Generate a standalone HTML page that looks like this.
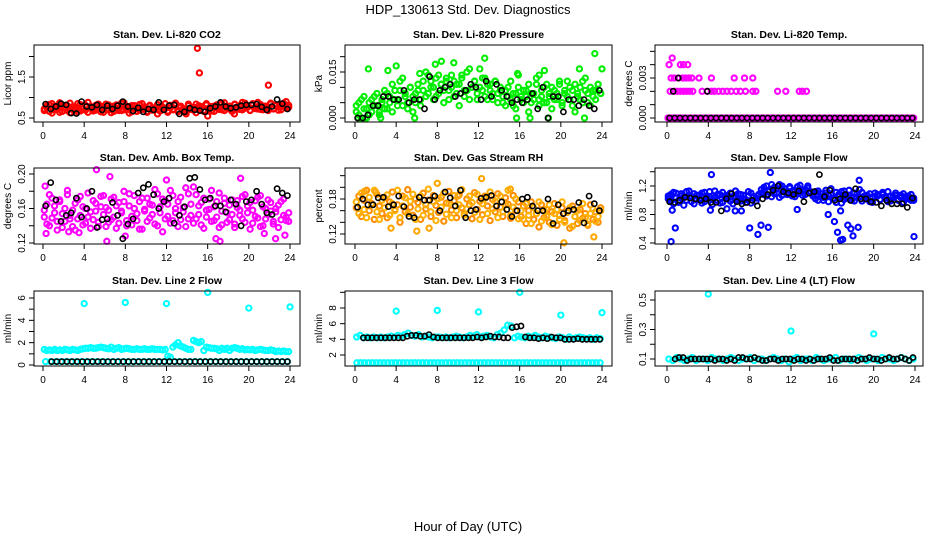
<!DOCTYPE html>
<html><head><meta charset="utf-8"><style>
html,body{margin:0;padding:0;background:#fff;}
svg{display:block;font-family:"Liberation Sans",sans-serif;}
</style></head><body>
<svg id="chart" width="936" height="540" viewBox="0 0 936 540" xmlns="http://www.w3.org/2000/svg">
<text x="468" y="14" text-anchor="middle" font-size="13">HDP_130613  Std. Dev. Diagnostics</text>
<text x="468" y="531" text-anchor="middle" font-size="13">Hour of Day (UTC)</text>
</svg>
<script>
// ---------- data ----------
const xTicks=[0,4,8,12,16,20,24];
// P1 CO2
const co2A=[0.72,0.80,0.66,0.85,0.70,0.78,0.64,0.82,0.74,0.68,0.86,0.71,0.77,0.65,0.83,0.73,0.69,0.88,0.75,0.67,0.81,0.72,0.79,0.64,0.84,0.70,0.76,0.66,0.82,0.73,0.68,0.87,0.71,0.78,0.65,0.80,0.74,0.69,0.85,0.72,0.66,0.79,0.75,0.70,0.83,0.67,0.77,0.73,0.64,0.81,0.71,0.86,0.68,0.76,0.72,0.65,0.80,0.74,0.69,0.84,0.70,0.78,0.66,0.82,0.73,0.67,0.79,0.75,0.71,0.85,0.68,0.77,0.72,0.66,0.83,0.74,0.80,0.70,0.86,0.76,0.69,0.82,0.73,0.88,0.71,0.79,0.75,0.68,0.84,0.72,0.80,0.77,0.70,0.86,0.74,0.81];
const co2B=[0.68,0.75,0.83,0.62,0.79,0.71,0.87,0.66,0.74,0.80,0.63,0.77,0.70,0.85,0.67,0.73,0.81,0.64,0.78,0.72,0.69,0.84,0.65,0.76,0.71,0.82,0.63,0.79,0.74,0.68,0.86,0.70,0.75,0.62,0.80,0.73,0.66,0.83,0.71,0.77,0.64,0.81,0.69,0.74,0.60,0.78,0.72,0.85,0.67,0.75,0.70,0.82,0.65,0.79,0.73,0.68,0.84,0.71,0.76,0.63,0.80,0.74,0.69,0.85,0.72,0.78,0.66,0.82,0.75,0.70,0.87,0.73,0.79,0.67,0.84,0.76,0.71,0.88,0.74,0.80,0.68,0.85,0.77,0.72,0.83,0.70,0.79,0.75,0.86,0.73,0.81,0.69,0.84,0.78,0.90,0.76];
const co2OutH=[15.0,15.2,21.9,16.0,13.9,18.6];
const co2OutV=[2.2,1.6,1.3,0.55,0.6,0.6];
const co2Black=[0.84,0.72,0.78,0.85,0.82,0.62,0.61,0.90,0.78,0.76,0.82,0.70,0.80,0.72,0.80,0.90,0.78,0.67,0.75,0.65,0.72,0.70,0.88,0.70,0.80,0.82,0.60,0.65,0.74,0.70,0.68,0.65,0.74,0.78,0.88,0.78,0.74,0.76,0.80,0.82,0.82,0.84,0.77,0.70,0.78,0.95,0.85,0.72];
// P2 Pressure
const presA=[0.004,0.001,0.006,0.003,0.000,0.005,0.002,0.007,0.004,0.001,0.006,0.003,0.008,0.005,0.002,0.009,0.006,0.012,0.004,0.008,0.003,0.010,0.007,0.005,0.009,0.004,0.012,0.007,0.014,0.010,0.006,0.013,0.008,0.011,0.005,0.012,0.009,0.014,0.007,0.011,0.004,0.013,0.009,0.015,0.006,0.010,0.012,0.008,0.016,0.009,0.013,0.006,0.011,0.008,0.012,0.005,0.009,0.007,0.004,0.010,0.006,0.008,0.003,0.014,0.007,0.005,0.009,0.002,0.008,0.006,0.011,0.004,0.007,0.010,0.005,0.008,0.003,0.009,0.006,0.011,0.004,0.008,0.012,0.006,0.009,0.002,0.007,0.010,0.005,0.013,0.008,0.004,0.009,0.006,0.011,0.008];
const presB=[0.002,0.005,0.000,0.007,0.003,0.001,0.006,0.004,0.008,0.002,0.005,0.009,0.003,0.007,0.011,0.006,0.004,0.009,0.013,0.007,0.005,0.010,0.002,0.008,0.011,0.006,0.009,0.015,0.008,0.012,0.010,0.007,0.014,0.011,0.009,0.013,0.006,0.010,0.012,0.008,0.011,0.014,0.007,0.009,0.016,0.010,0.012,0.006,0.010,0.013,0.007,0.011,0.009,0.006,0.012,0.008,0.010,0.005,0.009,0.007,0.012,0.004,0.008,0.010,0.006,0.009,0.007,0.011,0.005,0.008,0.013,0.006,0.009,0.005,0.011,0.007,0.010,0.006,0.008,0.012,0.005,0.009,0.007,0.010,0.004,0.011,0.008,0.006,0.012,0.009,0.005,0.010,0.007,0.009,0.011,0.008];
const presOutH=[23.3,12.6,8.4,7.8,4.0,24.0,9.6,3.2,21.8,18.4,17.9,15.8,1.3,6.3,0.3,1.0,2.5,15.7,17.0,18.8,22.3,5.8];
const presOutV=[0.021,0.0195,0.0185,0.0175,0.017,0.016,0.018,0.0155,0.016,0.0155,0.014,0.0145,0.016,0.0145,0,0,0,0,0,0,0,0];
const presBlack=[0.000,0.000,0.001,0.004,0.004,0.007,0.007,0.006,0.006,0.009,0.005,0.006,0.006,0.003,0.0135,0.006,0.009,0.010,0.011,0.007,0.008,0.009,0.011,0.010,0.006,0.012,0.007,0.011,0.009,0.007,0.005,0.006,0.005,0.006,0.008,0.003,0.010,0.000,0.007,0.007,0.002,0.006,0.006,0.004,0.006,0.004,0.003,0.009];
// P3 Li-820 Temp
const tempZero=[0,0,0,0,0,0,0,0,0,0,0,0,0,0,0,0,0,0,0,0,0,0,0,0,0,0,0,0,0,0,0,0,0,0,0,0,0,0,0,0,0,0,0,0,0,0,0,0,0,0,0,0,0,0,0,0,0,0,0,0,0,0,0,0,0,0,0,0,0,0,0,0,0,0,0,0,0,0,0,0,0,0,0,0,0,0,0,0,0,0,0,0,0,0,0,0];
const tempPtH=[0.1,0.3,0.5,0.7,0.9,1.1,1.3,0.3,0.7,1.0,1.3,1.6,1.9,2.2,2.5,3.4,3.9,4.3,4.6,5.0,5.4,5.8,6.2,6.7,7.1,7.6,8.3,8.6,10.7,11.5,12.8,13.1,13.5,0.4,0.7,1.1,1.5,1.8,2.1,2.4,3.1,4.3,6.5,7.5,8.3,0.2,1.3,1.6,2.0,0.5];
const tempPtV=[0,0,0,0,0,0,0,0.002,0.002,0.002,0.002,0.002,0.002,0.002,0.002,0.002,0.002,0.002,0.002,0.002,0.002,0.002,0.002,0.002,0.002,0.002,0.002,0.002,0.002,0.002,0.002,0.002,0.002,0.003,0.003,0.003,0.003,0.003,0.003,0.003,0.003,0.003,0.003,0.003,0.003,0.004,0.004,0.004,0.004,0.0045];
const tempBlackZero=[0,0,0,0,0,0,0,0,0,0,0,0,0,0,0,0,0,0,0,0,0,0,0,0,0,0,0,0,0,0,0,0,0,0,0,0,0,0,0,0,0,0,0,0,0,0,0,0];
const tempBlackH=[0.6,3.9,1.1];
const tempBlackV=[0.002,0.002,0.003];
// P4 Amb Box Temp
const ambA=[0.150,0.165,0.140,0.172,0.155,0.145,0.168,0.138,0.160,0.176,0.148,0.158,0.135,0.170,0.152,0.162,0.143,0.178,0.156,0.147,0.166,0.139,0.174,0.153,0.161,0.144,0.171,0.150,0.137,0.167,0.157,0.180,0.146,0.163,0.141,0.175,0.154,0.168,0.136,0.159,0.172,0.149,0.164,0.142,0.177,0.155,0.133,0.169,0.151,0.181,0.146,0.160,0.139,0.173,0.156,0.184,0.148,0.165,0.143,0.176,0.153,0.167,0.137,0.158,0.171,0.145,0.162,0.150,0.178,0.141,0.166,0.155,0.147,0.170,0.138,0.161,0.152,0.174,0.144,0.163,0.136,0.158,0.169,0.149,0.175,0.140,0.160,0.153,0.167,0.142,0.156,0.164,0.147,0.171,0.150,0.145];
const ambB=[0.158,0.142,0.176,0.149,0.163,0.135,0.170,0.154,0.145,0.181,0.152,0.139,0.166,0.148,0.174,0.141,0.160,0.150,0.137,0.169,0.157,0.144,0.162,0.175,0.139,0.158,0.147,0.173,0.163,0.143,0.155,0.168,0.140,0.177,0.151,0.160,0.146,0.136,0.172,0.157,0.145,0.165,0.153,0.182,0.140,0.162,0.171,0.148,0.165,0.143,0.175,0.155,0.168,0.147,0.161,0.139,0.177,0.152,0.185,0.148,0.163,0.141,0.172,0.150,0.159,0.181,0.146,0.168,0.138,0.157,0.172,0.144,0.164,0.153,0.142,0.169,0.158,0.148,0.176,0.155,0.167,0.143,0.151,0.173,0.139,0.162,0.148,0.170,0.157,0.145,0.160,0.138,0.168,0.152,0.146,0.155];
const ambOutH=[5.2,6.5,19.2,12.0,0.2,6.2,17.2,22.6,8.0,16.8,0.3,21.5,23.5,3.5,2.5];
const ambOutV=[0.205,0.197,0.195,0.193,0.186,0.122,0.122,0.125,0.128,0.125,0.131,0.131,0.129,0.132,0.133];
const ambBlack=[0.163,0.19,0.17,0.145,0.152,0.155,0.172,0.15,0.16,0.18,0.138,0.147,0.148,0.167,0.152,0.125,0.142,0.148,0.178,0.184,0.188,0.176,0.16,0.168,0.172,0.143,0.152,0.162,0.195,0.196,0.182,0.17,0.172,0.163,0.163,0.156,0.17,0.165,0.14,0.168,0.17,0.18,0.165,0.155,0.153,0.183,0.178,0.175];
// P5 Gas Stream RH
const rhA=[0.165,0.185,0.150,0.178,0.195,0.160,0.172,0.145,0.188,0.168,0.155,0.182,0.148,0.175,0.192,0.162,0.170,0.140,0.185,0.158,0.196,0.166,0.152,0.180,0.174,0.145,0.190,0.163,0.178,0.150,0.186,0.169,0.157,0.183,0.142,0.173,0.193,0.161,0.177,0.148,0.187,0.165,0.155,0.180,0.170,0.146,0.191,0.162,0.176,0.153,0.185,0.168,0.143,0.179,0.158,0.189,0.166,0.150,0.182,0.171,0.147,0.186,0.160,0.175,0.150,0.168,0.138,0.160,0.175,0.145,0.155,0.132,0.170,0.148,0.162,0.140,0.158,0.172,0.135,0.152,0.165,0.143,0.157,0.130,0.168,0.150,0.138,0.162,0.147,0.155,0.135,0.170,0.145,0.158,0.140,0.165];
const rhB=[0.175,0.155,0.190,0.162,0.148,0.183,0.170,0.195,0.158,0.145,0.178,0.165,0.187,0.152,0.172,0.160,0.195,0.148,0.168,0.182,0.155,0.176,0.188,0.145,0.163,0.185,0.152,0.170,0.197,0.158,0.175,0.143,0.181,0.166,0.190,0.154,0.172,0.148,0.186,0.160,0.170,0.196,0.152,0.163,0.185,0.174,0.157,0.188,0.145,0.172,0.181,0.155,0.192,0.163,0.176,0.148,0.185,0.158,0.170,0.195,0.152,0.166,0.180,0.146,0.160,0.145,0.172,0.152,0.138,0.165,0.155,0.175,0.142,0.160,0.150,0.170,0.136,0.155,0.162,0.145,0.175,0.140,0.158,0.165,0.133,0.150,0.160,0.143,0.172,0.148,0.137,0.155,0.163,0.142,0.150,0.160];
const rhOutH=[20.3,23.2,12.3,8.0,6.0,15.1,0.9,2.0,3.5,10.0,7.2];
const rhOutV=[0.105,0.115,0.215,0.207,0.125,0.197,0.193,0.192,0.130,0.185,0.130];
const rhBlack=[0.166,0.180,0.170,0.170,0.182,0.183,0.167,0.170,0.185,0.167,0.150,0.148,0.183,0.178,0.178,0.185,0.160,0.192,0.182,0.168,0.195,0.148,0.160,0.162,0.181,0.183,0.186,0.168,0.175,0.162,0.150,0.160,0.180,0.183,0.168,0.160,0.160,0.180,0.138,0.170,0.155,0.160,0.162,0.174,0.139,0.185,0.172,0.160];
// P6 Sample Flow
const flowA=[1.02,1.08,0.95,1.10,1.00,1.06,0.93,1.12,1.04,0.98,1.09,1.01,1.07,0.96,1.11,1.03,1.05,0.94,1.13,1.00,1.08,0.97,1.06,1.02,1.10,0.95,1.04,1.09,0.99,1.07,1.01,1.12,0.96,1.05,1.03,1.08,1.15,1.08,1.20,1.12,1.05,1.18,1.10,1.22,1.07,1.16,1.11,1.19,1.06,1.14,1.09,1.21,1.13,1.08,1.17,1.10,1.06,1.12,1.00,1.09,1.04,1.14,0.98,1.08,1.02,1.11,1.05,0.96,1.13,1.03,1.07,1.00,1.10,1.04,1.15,0.99,1.06,1.02,1.09,0.97,1.05,1.08,1.01,1.11,1.03,0.98,1.06,1.04,1.10,1.00,1.07,0.97,1.05,1.02,1.08,1.00];
const flowB=[1.06,0.99,1.11,1.03,0.97,1.09,1.04,1.00,1.13,1.05,0.95,1.07,1.02,1.10,0.98,1.06,1.12,1.01,1.04,1.08,0.96,1.11,1.03,1.07,0.99,1.05,1.13,1.00,1.08,1.02,0.97,1.06,1.10,1.04,0.99,1.07,1.10,1.18,1.06,1.14,1.22,1.09,1.16,1.04,1.20,1.12,1.08,1.17,1.13,1.05,1.19,1.11,1.07,1.15,1.20,1.12,1.09,1.02,1.13,1.05,1.00,1.10,1.07,1.16,1.03,0.97,1.08,1.12,1.01,1.06,1.14,1.04,0.99,1.09,1.05,1.11,1.02,1.07,0.98,1.04,1.10,1.06,1.01,1.08,1.03,1.12,0.99,1.05,1.07,1.01,1.04,1.09,1.02,1.06,1.00,1.03];
const flowOutH=[0.4,0.8,8.0,8.8,9.1,9.8,16.5,16.8,17.0,17.5,18.0,18.5,15.6,16.2,16.8,17.8,7.2,23.9,4.3,10.0,18.6,0.5,6.6,12.6,4.2,5.8];
const flowOutV=[0.42,0.61,0.61,0.52,0.65,0.62,0.55,0.44,0.45,0.65,0.50,0.62,0.80,0.70,0.85,0.60,0.85,0.49,1.36,1.39,1.28,0.86,0.85,0.87,0.86,0.88];
const flowBlack=[0.98,0.97,1.00,1.04,1.03,1.02,1.00,1.02,0.97,0.97,0.85,1.02,1.09,0.98,0.95,0.97,1.00,0.92,1.02,1.08,1.14,1.20,1.12,1.10,1.08,1.13,0.98,1.10,1.12,1.36,1.05,1.14,1.00,1.02,1.08,1.00,1.16,1.02,1.02,0.98,0.97,0.92,1.00,0.95,0.95,0.95,0.90,1.03];
// P7 Line 2 Flow
const l2Cyan=[1.4,1.3,1.35,1.3,1.4,1.3,1.35,1.3,1.4,1.35,1.3,1.4,1.35,1.3,1.4,1.45,1.5,1.5,1.55,1.5,1.5,1.55,1.6,1.55,1.5,1.45,1.6,1.4,1.5,1.55,1.4,1.45,1.5,1.45,1.4,1.4,1.45,1.4,1.4,1.45,1.4,1.4,1.45,1.4,1.4,1.4,1.35,1.4,0.8,0.7,1.6,1.8,2.0,1.7,1.6,1.5,1.4,1.4,2.2,2.1,2.0,2.1,1.3,1.6,1.55,1.5,1.5,1.45,1.3,1.5,1.4,1.5,1.3,1.5,1.55,1.5,1.4,1.45,1.35,1.4,1.35,1.4,1.3,1.35,1.4,1.35,1.3,1.3,1.35,1.3,1.2,1.25,1.2,1.25,1.2,1.2];
const l2CyanLow=[0.3,0.3,0.3,0.3,0.3,0.3,0.3,0.3,0.3,0.3,0.3,0.3,0.3,0.3,0.3,0.3,0.3,0.3,0.3,0.3,0.3,0.3,0.3,0.3,0.3,0.3,0.3,0.3,0.3,0.3,0.3,0.3,0.3,0.3,0.3,0.3,0.3,0.3,0.3,0.3,0.3,0.3,0.3,0.3,0.3,0.3,0.3,0.3];
const l2OutH=[4,8,12,16,20,24];
const l2OutV=[5.5,5.6,5.5,6.5,5.1,5.2];
const l2Black=[0.3,0.3,0.3,0.3,0.3,0.3,0.3,0.3,0.3,0.3,0.3,0.3,0.3,0.3,0.3,0.3,0.3,0.3,0.3,0.3,0.3,0.3,0.3,0.3,0.3,0.3,0.3,0.3,0.3,0.3,0.3,0.3,0.3,0.3,0.3,0.3,0.3,0.3,0.3,0.3,0.3,0.3,0.3,0.3,0.3,0.3,0.3];
// P8 Line 3 Flow
const l3CyanLow=[1,1,1,1,1,1,1,1,1,1,1,1,1,1,1,1,1,1,1,1,1,1,1,1,1,1,1,1,1,1,1,1,1,1,1,1,1,1,1,1,1,1,1,1,1,1,1,1,1,1,1,1,1,1,1,1,1,1,1,1,1,1,1,1];
const l3CyanMid=[4.3,4.5,4.2,4.3,4.2,4.3,4.2,4.3,4.2,4.3,4.4,4.3,4.5,4.4,4.6,4.8,4.5,4.4,4.6,4.3,4.4,4.3,4.2,4.3,4.3,4.2,4.3,4.2,4.3,4.4,4.3,4.2,4.3,4.5,4.4,4.6,4.3,4.4,4.5,4.3,4.2,4.6,4.8,5.2,5.8,5.7,4.2,4.4,4.3,4.2,4.4,4.3,4.5,4.3,4.2,4.4,4.3,4.2,4.1,4.3,4.2,4.0,4.3,4.1,4.2,4.3,4.2,4.1,4.2,4.0,4.2,4.1];
const l3OutH=[4,8,12,16,20,24];
const l3OutV=[7.6,7.7,7.5,10.0,7.1,7.4];
const l3Black=[4.2,4.2,4.2,4.2,4.2,4.2,4.2,4.2,4.2,4.2,4.4,4.5,4.5,4.4,4.4,4.6,4.3,4.2,4.2,4.2,4.2,4.2,4.2,4.2,4.2,4.2,4.3,4.2,4.3,4.4,4.3,4.3,4.2,4.2,5.5,5.6,5.7,4.3,4.2,4.2,4.1,4.2,4.1,4.3,4.2,4.2,4.0,4.0,4.0,4.1,4.0,4.0,4.0,4.0,4.0];
// P9 Line 4 Flow
const l4Cyan=[0.10,0.09,0.11,0.10,0.09,0.10,0.11,0.09,0.10,0.10,0.09,0.11,0.10,0.10,0.09,0.10,0.11,0.10,0.09,0.10,0.10,0.11,0.09,0.10,0.10,0.09,0.10,0.11,0.10,0.09,0.10,0.08,0.10,0.11,0.09,0.10,0.10,0.09,0.11,0.10,0.09,0.10,0.10,0.11,0.09,0.10,0.10,0.09,0.10,0.11,0.10,0.09,0.10,0.10,0.09,0.11,0.10,0.10,0.09,0.10,0.11,0.10,0.09,0.10];
const l4OutH=[4,12,20];
const l4OutV=[0.54,0.29,0.27];
const l4Black=[0.10,0.11,0.11,0.09,0.10,0.10,0.10,0.10,0.10,0.10,0.09,0.10,0.10,0.09,0.10,0.09,0.11,0.11,0.10,0.10,0.11,0.10,0.09,0.09,0.10,0.10,0.09,0.10,0.10,0.10,0.09,0.10,0.10,0.09,0.10,0.09,0.10,0.10,0.10,0.11,0.09,0.09,0.10,0.10,0.10,0.10,0.09,0.10,0.10,0.11,0.10,0.10,0.09,0.10,0.11,0.10,0.10,0.11,0.10,0.09,0.11];

// ---------- layout ----------
const NS='http://www.w3.org/2000/svg';
const svg=document.getElementById('chart');
const cols=[{bl:34,br:300,x0:43,x24:290},{bl:345,br:612,x0:355,x24:602},{bl:655,br:923,x0:667,x24:915}];
const rows=[{bt:45,bb:122},{bt:168,bb:244},{bt:291,bb:366}];
function mk(tag,attrs,parent){const e=document.createElementNS(NS,tag);for(const k in attrs)e.setAttribute(k,attrs[k]);(parent||svg).appendChild(e);return e;}

const panels=[
 {name:'co2',title:'Stan. Dev. Li-820 CO2',ylab:'Licor ppm',c:0,r:0,cal:[0.5,118,1.5,77],ticks:[0.5,1.0,1.5,2.0],labs:['0.5','','1.5',''],
  series:[{col:'#ff0000',v:co2A},{col:'#ff0000',v:co2B},{col:'#ff0000',h:co2OutH,v:co2OutV},{col:'#000',v:co2Black}]},
 {name:'pressure',title:'Stan. Dev. Li-820 Pressure',ylab:'kPa',c:1,r:0,cal:[0,118,0.015,72],ticks:[0,0.005,0.01,0.015,0.02],labs:['0.000','','','0.015',''],
  series:[{col:'#00ee00',v:presA},{col:'#00ee00',v:presB},{col:'#00ee00',h:presOutH,v:presOutV},{col:'#000',v:presBlack}]},
 {name:'li820-temp',title:'Stan. Dev. Li-820 Temp.',ylab:'degrees C',c:2,r:0,cal:[0,118,0.003,78],ticks:[0,0.001,0.002,0.003,0.004,0.005],labs:['0.000','','','0.003','',''],
  series:[{col:'#ff00ff',v:tempZero},{col:'#ff00ff',h:tempPtH,v:tempPtV},{col:'#000',v:tempBlackZero},{col:'#000',h:tempBlackH,v:tempBlackV}]},
 {name:'amb-box-temp',title:'Stan. Dev. Amb. Box Temp.',ylab:'degrees C',c:0,r:1,cal:[0.12,243,0.20,174],ticks:[0.12,0.14,0.16,0.18,0.20],labs:['0.12','','0.16','','0.20'],
  series:[{col:'#ff00ff',v:ambA},{col:'#ff00ff',v:ambB},{col:'#ff00ff',h:ambOutH,v:ambOutV},{col:'#000',v:ambBlack}]},
 {name:'gas-stream-rh',title:'Stan. Dev. Gas Stream RH',ylab:'percent',c:1,r:1,cal:[0.12,234,0.18,199],ticks:[0.12,0.14,0.16,0.18,0.20,0.22],labs:['0.12','','','0.18','',''],
  series:[{col:'#ff8c00',v:rhA},{col:'#ffb000',v:rhB},{col:'#ffa500',h:rhOutH,v:rhOutV},{col:'#000',v:rhBlack}]},
 {name:'sample-flow',title:'Stan. Dev. Sample Flow',ylab:'ml/min',c:2,r:1,cal:[0.4,243,1.2,186],ticks:[0.4,0.6,0.8,1.0,1.2,1.4],labs:['0.4','','0.8','','1.2',''],
  series:[{col:'#0000ff',v:flowA},{col:'#0000ff',v:flowB},{col:'#0000ff',h:flowOutH,v:flowOutV},{col:'#000',v:flowBlack}]},
 {name:'line2-flow',title:'Stan. Dev. Line 2 Flow',ylab:'ml/min',c:0,r:2,cal:[0,365,6,298],ticks:[0,1,2,3,4,5,6],labs:['0','','2','','4','','6'],
  series:[{col:'#00ffff',v:l2Cyan},{col:'#00ffff',v:l2CyanLow},{col:'#00ffff',h:l2OutH,v:l2OutV},{col:'#000',v:l2Black,off:0.6}]},
 {name:'line3-flow',title:'Stan. Dev. Line 3 Flow',ylab:'ml/min',c:1,r:2,cal:[2,355,8,308],ticks:[2,4,6,8,10],labs:['2','4','6','8',''],
  series:[{col:'#00ffff',v:l3CyanLow},{col:'#00ffff',v:l3CyanMid},{col:'#00ffff',h:l3OutH,v:l3OutV},{col:'#000',v:l3Black,off:0.6}]},
 {name:'line4-flow',title:'Stan. Dev. Line 4 (LT) Flow',ylab:'ml/min',c:2,r:2,cal:[0.1,359,0.5,300],ticks:[0.1,0.2,0.3,0.4,0.5],labs:['0.1','','0.3','','0.5'],
  series:[{col:'#00ffff',v:l4Cyan},{col:'#00ffff',h:l4OutH,v:l4OutV},{col:'#000',v:l4Black,off:0.6}]}
];

panels.forEach(p=>{
  const C=cols[p.c],R=rows[p.r];
  const sx=h=>C.x0+h*(C.x24-C.x0)/24;
  const [v1,y1,v2,y2]=p.cal;
  const sy=v=>y1+(v-v1)*(y2-y1)/(v2-v1);
  const g=mk('g',{});
  
  
  const t=mk('text',{x:(C.bl+C.br)/2,y:R.bt-7,'text-anchor':'middle','font-size':'10.5','font-weight':'bold'},g);
  t.textContent=p.title;
  
  
  const pts=mk('g',{fill:'none'},g);
  
  
  p.series.forEach(s=>{
    const hs=s.h||s.v.map((v,i)=>(s.off||0)+(i+0.5)*(24-(s.off||0))/s.v.length);
    const sw=s.col==='#000'?'1.6':'2.1';
    s.v.forEach((v,i)=>{
      const c=mk('circle',{cx:sx(hs[i]).toFixed(1),cy:sy(v).toFixed(1),r:'2.6',stroke:s.col,'stroke-width':sw},pts);
      
      
    });
  });
  const b=mk('rect',{x:C.bl,y:R.bt,width:C.br-C.bl,height:R.bb-R.bt,fill:'none',stroke:'#000','stroke-width':'1'},g);
  
  
  const xa=mk('g',{},g);
  
  
  mk('line',{x1:sx(xTicks[0]),x2:sx(xTicks[xTicks.length-1]),y1:R.bb,y2:R.bb,stroke:'#000'},xa);
  xTicks.forEach(h=>{
    mk('line',{x1:sx(h),x2:sx(h),y1:R.bb,y2:R.bb+5,stroke:'#000'},xa);
    const tl=mk('text',{x:sx(h),y:R.bb+17,'text-anchor':'middle','font-size':'10'},xa);
    tl.textContent=String(h);
    
    
  });
  const ya=mk('g',{},g);
  
  
  mk('line',{x1:C.bl,x2:C.bl,y1:sy(p.ticks[0]),y2:sy(p.ticks[p.ticks.length-1]),stroke:'#000'},ya);
  p.ticks.forEach((v,i)=>{
    const y=sy(v);
    mk('line',{x1:C.bl-5,x2:C.bl,y1:y,y2:y,stroke:'#000'},ya);
    if(p.labs[i]){
      const tl=mk('text',{x:0,y:0,'text-anchor':'middle','font-size':'10',transform:`translate(${C.bl-9},${y}) rotate(-90)`},ya);
      tl.textContent=p.labs[i];
      
      
    }
  });
  const yl=mk('text',{x:0,y:0,'text-anchor':'middle','font-size':'10',transform:`translate(${C.bl-23},${(R.bt+R.bb)/2}) rotate(-90)`},g);
  yl.textContent=p.ylab;
  
  
});
</script>
</body></html>
